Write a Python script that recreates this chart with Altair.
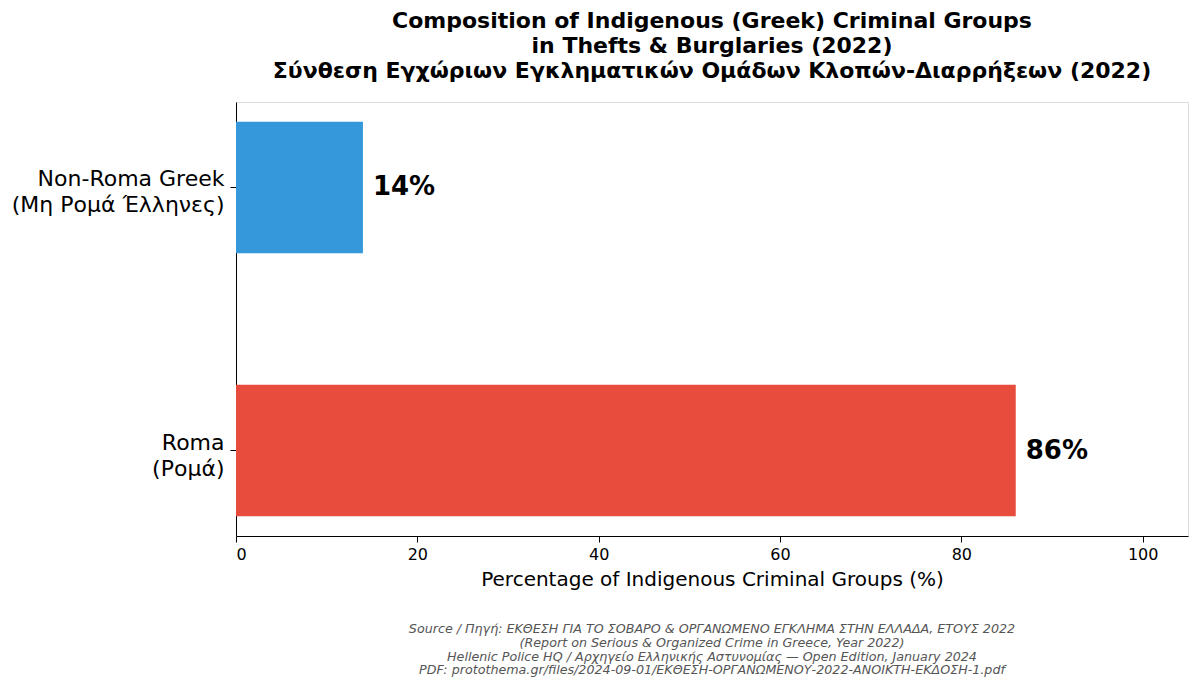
import altair as alt
import pandas as pd

categories = ["Non-Roma Greek\n(Μη Ρομά Έλληνες)", "Roma\n(Ρομά)"]
values = [14, 86]
labels = ["14%", "86%"]
colors = ["#3498db", "#e74c3c"]

title_lines = [
    "Composition of Indigenous (Greek) Criminal Groups",
    "in Thefts & Burglaries (2022)",
    "Σύνθεση Εγχώριων Εγκληματικών Ομάδων Κλοπών-Διαρρήξεων (2022)",
]
source_lines = [
    "Source / Πηγή: ΕΚΘΕΣΗ ΓΙΑ ΤΟ ΣΟΒΑΡΟ & ΟΡΓΑΝΩΜΕΝΟ ΕΓΚΛΗΜΑ ΣΤΗΝ ΕΛΛΑΔΑ, ΕΤΟΥΣ 2022",
    "(Report on Serious & Organized Crime in Greece, Year 2022)",
    "Hellenic Police HQ / Αρχηγείο Ελληνικής Αστυνομίας — Open Edition, January 2024",
    "PDF: protothema.gr/files/2024-09-01/ΕΚΘΕΣΗ-ΟΡΓΑΝΩΜΕΝΟΥ-2022-ΑΝΟΙΚΤΗ-ΕΚΔΟΣΗ-1.pdf",
]

df = pd.DataFrame({"category": categories, "value": values, "label": labels})

FONT = "DejaVu Sans"
W, H = 952, 434

y_enc = alt.Y(
    "category:N",
    sort=categories,
    scale=alt.Scale(paddingInner=0.5, paddingOuter=0.075),
    axis=alt.Axis(
        title=None,
        labelExpr="split(datum.label, '\\n')",
        labelFontSize=22,
        labelLineHeight=26,
        labelColor="#000000",
        labelFont=FONT,
        labelPadding=6,
        labelOffset=-8,
        tickSize=6,
        tickColor="#000000",
        domainColor="#000000",
        labelBaseline="middle",
        labelLimit=400,
    ),
)

x_enc = alt.X(
    "value:Q",
    scale=alt.Scale(domain=[0, 105], nice=False),
    axis=alt.Axis(
        title="Percentage of Indigenous Criminal Groups (%)",
        titleFontSize=20,
        titleFontWeight="normal",
        titleFont=FONT,
        titleColor="#000000",
        titlePadding=7,
        values=[0, 20, 40, 60, 80, 100],
        labelFontSize=16,
        labelFont=FONT,
        labelColor="#000000",
        tickSize=6,
        tickColor="#000000",
        domainColor="#000000",
        grid=False,
        labelPadding=4,
    ),
)

bars = alt.Chart(df).mark_bar().encode(
    x=x_enc,
    y=y_enc,
    color=alt.Color("category:N", scale=alt.Scale(domain=categories, range=colors), legend=None),
)

text = alt.Chart(df).mark_text(
    align="left", baseline="middle", dx=10, fontSize=26, fontWeight="bold", font=FONT, color="#000000"
).encode(x="value:Q", y=alt.Y("category:N", sort=categories), text="label:N")

source = alt.Chart(pd.DataFrame({"a": [0]})).mark_text(
    align="center", baseline="top", fontSize=12.7, fontStyle="italic", font=FONT,
    color="#555555", lineHeight=13.8,
).encode(
    x=alt.value(W / 2),
    y=alt.value(H + 87),
    text=alt.value(source_lines),
)

chart = (
    alt.layer(bars, text, source)
    .properties(
        width=W,
        height=H,
        padding={"left": 228, "top": 94, "right": 4, "bottom": 145},
        autosize=alt.AutoSizeParams(type="none"),
        title=alt.TitleParams(
            text=title_lines,
            fontSize=22,
            fontWeight="bold",
            font=FONT,
            color="#000000",
            lineHeight=25,
            anchor="middle",
            offset=19,
        ),
    )
    .configure_view(stroke=None)
    .configure(background="white")
)

chart.save("out.html", embed_options={"renderer": "svg", "actions": False})
